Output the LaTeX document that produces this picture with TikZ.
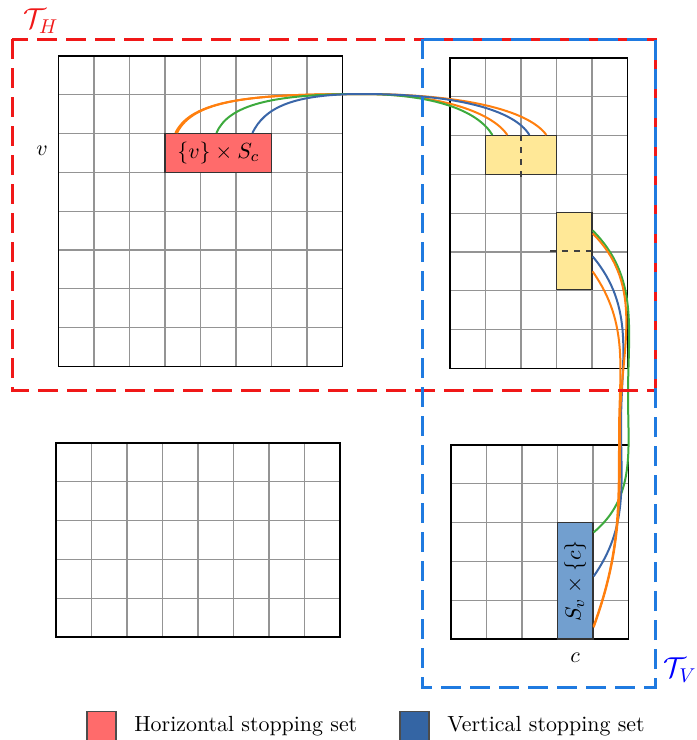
\documentclass[tikz,border=0pt,11pt]{standalone}
\usepackage{amsmath,amssymb}
\usepackage{tikz}
\usetikzlibrary{positioning,calc}
\definecolor{hred}{HTML}{FF6B6B}
\definecolor{vblue}{HTML}{729FCF}
\definecolor{legblue}{HTML}{3465A4}
\definecolor{ystop}{HTML}{FFE897}
\definecolor{corange}{HTML}{FF7F0E}
\definecolor{cgreen}{HTML}{3DAA3D}
\definecolor{cblue}{HTML}{3A66A8}
\definecolor{framered}{HTML}{F01818}
\definecolor{frameblue}{HTML}{1F7AE0}

\tikzset{
  gridline/.style={black!42, line width=0.55pt},
  gridframe/.style={black, line width=0.7pt},
  stopbox/.style={draw=black!80, line width=0.6pt, inner sep=0pt},
  route/.style={line width=1pt},
  setframe/.style={line width=1.5pt, dash pattern=on 10pt off 4.5pt},
  legendkey/.style={draw=black!70, line width=0.6pt, minimum size=14.5pt, inner sep=0pt},
}

\begin{document}
\begin{tikzpicture}[x=0.5pt, y=-0.5pt]
\useasboundingbox (0,0) rectangle (697,740);

% Top-left grid (8 x 8)
\foreach \i in {1,...,7} {
    \draw[gridline] (58.5+\i*35.5,56) -- (58.5+\i*35.5,366.4);
    \draw[gridline] (58.5,56+\i*38.8) -- (342.5,56+\i*38.8);
}
\draw[gridframe] (58.5,56) rectangle (342.5,366.4);

% Top-right grid (5 x 8)
\foreach \i in {1,...,4}
    \draw[gridline] (450+\i*35.5,58) -- (450+\i*35.5,368.4);
\foreach \j in {1,...,7}
    \draw[gridline] (450,58+\j*38.8) -- (627.5,58+\j*38.8);
\draw[gridframe] (450,58) rectangle (627.5,368.4);

% Bottom-left grid (8 x 5)
\foreach \i in {1,...,7}
    \draw[gridline] (56+\i*35.5,443) -- (56+\i*35.5,637);
\foreach \j in {1,...,4}
    \draw[gridline] (56,443+\j*38.8) -- (340,443+\j*38.8);
\draw[gridframe] (56,443) rectangle (340,637);

% Bottom-right grid (5 x 5)
\foreach \i in {1,...,4} {
    \draw[gridline] (451+\i*35.5,445) -- (451+\i*35.5,639);
    \draw[gridline] (451,445+\i*38.8) -- (628.5,445+\i*38.8);
}
\draw[gridframe] (451,445) rectangle (628.5,639);

% Stopping sets
\node[stopbox, fill=hred, minimum width=53.25pt, minimum height=19.4pt] (hset) at (218.25,153) {$\{v\} \times S_c$};
\node[stopbox, fill=ystop, minimum width=35.5pt, minimum height=19.4pt] (ystop1) at (521,155) {};
\node[stopbox, fill=ystop, minimum width=17.75pt, minimum height=38.8pt] (ystop2) at (574.25,251) {};
\node[stopbox, fill=vblue, minimum width=17.75pt, minimum height=58.2pt] (vset) at (575.25,580.8) {\rotatebox{90}{$S_v \times \{c\}$}};

\draw[dashed, line width=0.8pt, black!75] (ystop1.north) -- ([yshift=-3pt]ystop1.south);
\draw[dashed, line width=0.8pt, black!75] ([xshift=-3pt]ystop2.west) -- (ystop2.east);

% Row and column labels
\node (vlabel) at (42,151) {$v$};
\node (clabel) at (575,658) {$c$};

% Paths over the top
\coordinate (crest) at (362,94);
\draw[route, corange] ([xshift=5.5pt]hset.north west) .. controls +(16,-33) and +(-112,0) .. (crest)
    .. controls +(80,0) and +(-15,-22) .. ([xshift=11.25pt]ystop1.north west);
\draw[route, corange] ([xshift=6.3pt]hset.north west) .. controls +(16,-33) and +(-112,0) .. (crest)
    .. controls +(100,0) and +(-18,-25) .. ([xshift=30.75pt]ystop1.north west);
\draw[route, cgreen] ([xshift=26pt]hset.north west) .. controls +(12,-28) and +(-90,0) .. (crest)
    .. controls +(70,0) and +(-15,-25) .. ([xshift=3.75pt]ystop1.north west);
\draw[route, cblue] ([xshift=44pt]hset.north west) .. controls +(12,-25) and +(-70,0) .. (crest)
    .. controls +(95,0) and +(-15,-25) .. ([xshift=22.25pt]ystop1.north west);

% Paths down the side
\coordinate (gbend) at (628,395);
\coordinate (bbend) at (621,425);
\coordinate (obend1) at (620,425);
\coordinate (obend2) at (619,435);
\draw[route, cgreen] ([yshift=-9.4pt]ystop2.north east) to[out=-45,in=90] (gbend) to[out=-90,in=40] ([yshift=-5.2pt]vset.north east);
\draw[route, cblue] ([yshift=-22.4pt]ystop2.north east) to[out=-50,in=90] (bbend) to[out=-90,in=55] ([yshift=-27.2pt]vset.north east);
\draw[route, corange] ([yshift=-10.9pt]ystop2.north east) to[out=-45,in=90] (obend1) to[out=-90,in=70] ([yshift=-52.7pt]vset.north east);
\draw[route, corange] ([yshift=-29.9pt]ystop2.north east) to[out=-55,in=90] (obend2) to[out=-90,in=70] ([yshift=-52pt]vset.north east);

% Tiles
\draw[setframe, framered] (12,39) rectangle (655,390);
\draw[setframe, frameblue] (422,39) rectangle (655,687);
\node[framered, font=\Large] (thlabel) at (41,21) {$\mathcal{T}_H$};
\node[blue, font=\Large] (tvlabel) at (680,670) {$\mathcal{T}_V$};

% Legend
\node[legendkey, fill=hred] (hkey) at (101.5,726) {};
\node[right=5pt of hkey] (htext) {Horizontal stopping set};
\node[legendkey, fill=legblue] (vkey) at (414.5,726) {};
\node[right=5pt of vkey] (vtext) {Vertical stopping set};

\end{tikzpicture}
\end{document}
